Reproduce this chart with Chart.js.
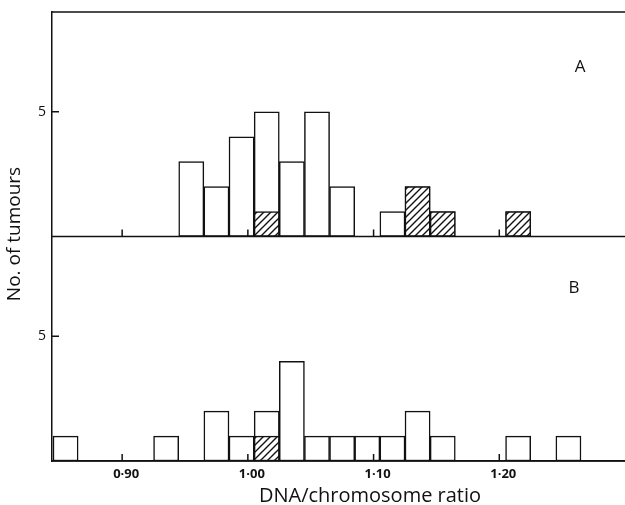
<!DOCTYPE html>
<html>
<head>
<meta charset="utf-8">
<script src="https://cdn.jsdelivr.net/npm/chart.js@4/dist/chart.umd.min.js"></script>
<style>
  body { margin: 0; background: #fff; }
  canvas { display: block; }
</style>
</head>
<body>
<canvas id="histo" width="625" height="505"></canvas>
<script>
  // bin centres (bins 0.02 wide, edges at .845, .865, ...)
  var binCentres = [0.855, 0.875, 0.895, 0.915, 0.935, 0.955, 0.975, 0.995, 1.015, 1.035, 1.055,
                    1.075, 1.095, 1.115, 1.135, 1.155, 1.175, 1.195, 1.215, 1.235, 1.255];
  // panel A: all tumours / hatched tumours
  var tumoursA = [0, 0, 0, 0, 0, 3, 2, 4, 5, 3, 5, 2, 0, 1, 2, 1, 0, 0, 1, 0, 0];
  var hatchedA = [0, 0, 0, 0, 0, 0, 0, 0, 1, 0, 0, 0, 0, 0, 2, 1, 0, 0, 1, 0, 0];
  // panel B
  var tumoursB = [1, 0, 0, 0, 1, 0, 2, 1, 2, 4, 1, 1, 1, 1, 2, 1, 0, 0, 1, 0, 1];
  var hatchedB = [0, 0, 0, 0, 0, 0, 0, 0, 1, 0, 0, 0, 0, 0, 0, 0, 0, 0, 0, 0, 0];

  var xTicks = [0.90, 1.00, 1.10, 1.20];
  var xTickLabels = ["0·90", "1·00", "1·10", "1·20"];
  var yTicks = [5];

  var ink = "#111";

  // hatch pattern
  var hatch = (function () {
    var p = 7;
    var c = document.createElement("canvas");
    c.width = p; c.height = p;
    var g = c.getContext("2d");
    g.fillStyle = "#fff";
    g.fillRect(0, 0, p, p);
    g.strokeStyle = ink;
    g.lineWidth = 1.4;
    g.beginPath();
    g.moveTo(-1, p + 1); g.lineTo(p + 1, -1);
    g.moveTo(-1, 1); g.lineTo(1, -1);
    g.moveTo(p - 1, p + 1); g.lineTo(p + 1, p - 1);
    g.stroke();
    return g.createPattern(c, "repeat");
  })();

  function points(values) {
    return binCentres.map(function (x, i) {
      return { x: x, y: values[i] || null };
    });
  }

  function barSet(values, axis, fill, order) {
    return {
      data: points(values),
      yAxisID: axis,
      backgroundColor: fill,
      borderColor: ink,
      borderWidth: 1.5,
      borderSkipped: false,
      barPercentage: 1,
      categoryPercentage: 1,
      grouped: false,
      order: order,
    };
  }

  function yAxis() {
    return {
      type: "linear",
      position: "left",
      stack: "panels",
      min: 0,
      max: 9,
      afterBuildTicks: function (s) {
        s.ticks = yTicks.map(function (v) { return { value: v }; });
      },
      afterFit: function (s) {
        s.width = 52;
        s.paddingTop = 0;
        s.paddingBottom = 0;
      },
      ticks: {
        color: ink,
        padding: 6,
        font: { family: "Open Sans", size: 14 },
      },
      grid: { display: false, drawTicks: false, tickLength: 0 },
      border: { display: true, color: ink, width: 1.5 },
    };
  }

  // frame lines, inner tick marks and labels
  var decor = {
    id: "decor",
    afterDraw: function (chart) {
      var ctx = chart.ctx;
      var area = chart.chartArea;
      var x = chart.scales.x;
      ctx.save();
      ctx.strokeStyle = ink;
      ctx.lineWidth = 1.5;
      ["yA", "yB"].forEach(function (id) {
        var sc = chart.scales[id];
        var y0 = sc.getPixelForValue(0);
        ctx.beginPath();
        ctx.moveTo(area.left, y0);
        ctx.lineTo(area.right, y0);
        xTicks.forEach(function (t) {
          var px = x.getPixelForValue(t);
          ctx.moveTo(px, y0);
          ctx.lineTo(px, y0 - 7);
        });
        yTicks.forEach(function (t) {
          var py = sc.getPixelForValue(t);
          ctx.moveTo(area.left, py);
          ctx.lineTo(area.left + 7, py);
        });
        ctx.stroke();
      });
      ctx.beginPath();
      ctx.moveTo(area.left, area.top);
      ctx.lineTo(area.right, area.top);
      ctx.stroke();

      ctx.fillStyle = ink;
      ctx.textAlign = "center";
      ctx.textBaseline = "middle";
      ctx.font = '17px "Open Sans"';
      ctx.fillText("A", 580, 67);
      ctx.fillText("B", 574, 288);
      ctx.font = '20px "Open Sans"';
      ctx.fillText("DNA/chromosome ratio", 370, 496);
      ctx.font = '19px "Open Sans"';
      ctx.translate(15, 234);
      ctx.rotate(-Math.PI / 2);
      ctx.fillText("No. of tumours", 0, 0);
      ctx.restore();
    },
  };

  new Chart(document.getElementById("histo"), {
    type: "bar",
    data: {
      datasets: [
        barSet(hatchedA, "yA", hatch, 0),
        barSet(hatchedB, "yB", hatch, 0),
        barSet(tumoursA, "yA", "#fff", 1),
        barSet(tumoursB, "yB", "#fff", 1),
      ],
    },
    options: {
      responsive: false,
      animation: false,
      layout: { padding: { top: 12, right: 0, left: 0, bottom: 0 } },
      plugins: { legend: { display: false }, tooltip: { enabled: false } },
      scales: {
        x: {
          type: "linear",
          min: 0.8442,
          max: 1.3,
          offset: false,
          afterBuildTicks: function (s) {
            s.ticks = xTicks.map(function (v) { return { value: v }; });
          },
          afterFit: function (s) { s.height = 44; },
          ticks: {
            color: ink,
            padding: 5,
            labelOffset: 4,
            font: { family: "Open Sans", size: 13, weight: "bold" },
            callback: function (v) { return xTickLabels[xTicks.indexOf(v)]; },
          },
          grid: { display: false, drawTicks: false, tickLength: 0, offset: false },
          border: { display: true, color: ink, width: 1.5 },
        },
        yB: yAxis(),
        yA: yAxis(),
      },
    },
    plugins: [decor],
  });
</script>
</body>
</html>
